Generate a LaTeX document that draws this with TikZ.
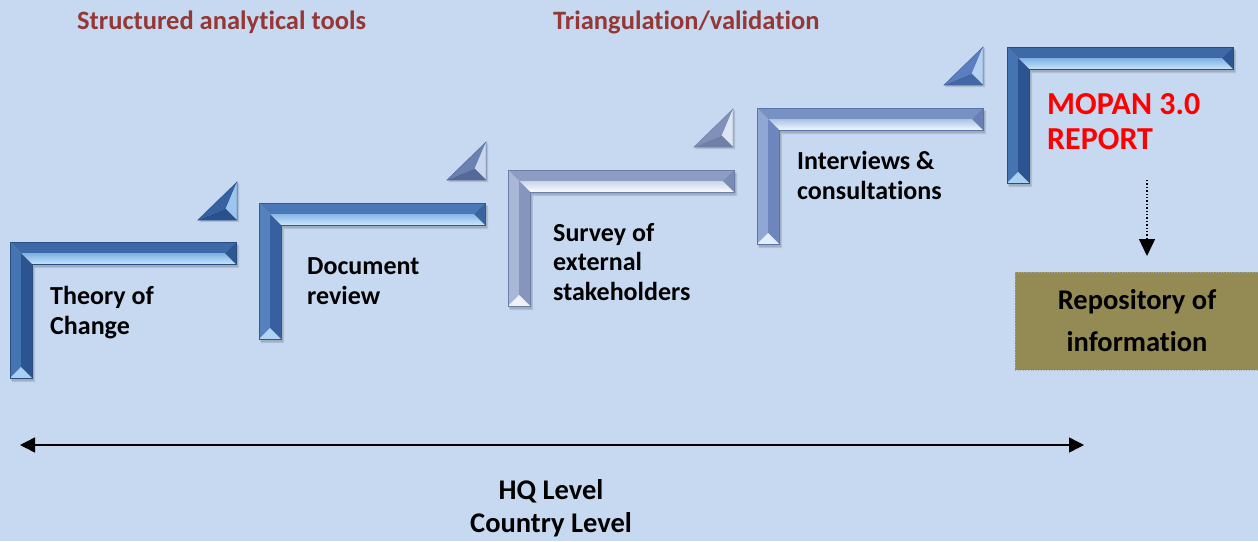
\documentclass[tikz,border=0pt]{standalone}
\usepackage{fontspec}
\setmainfont{Carlito}[Ligatures=NoCommon]
\usetikzlibrary{arrows.meta}

% keeps "t" and "i" as separate glyphs
\newcommand\ti{t\kern0pt i}

\definecolor{bg}{HTML}{C6D9F0}
\definecolor{headred}{HTML}{953735}
\definecolor{repofill}{HTML}{948A54}

% bevelled step colour sets: top facet, strip top/bottom, end facet,
% vertical left/right facets, bottom facet, outline
\definecolor{A-top}{HTML}{3D69A7}\definecolor{A-st}{HTML}{7FB0E3}\definecolor{A-sb}{HTML}{C4E4FB}
\definecolor{A-end}{HTML}{2D5792}\definecolor{A-vl}{HTML}{4574B2}\definecolor{A-vr}{HTML}{2C5490}
\definecolor{A-bot}{HTML}{A8D0F2}\definecolor{A-line}{HTML}{2B4E82}

\definecolor{D-top}{HTML}{4A77B6}\definecolor{D-st}{HTML}{86B6E6}\definecolor{D-sb}{HTML}{CBE7FB}
\definecolor{D-end}{HTML}{3A64A0}\definecolor{D-vl}{HTML}{5382BF}\definecolor{D-vr}{HTML}{3860A0}
\definecolor{D-bot}{HTML}{B0D5F4}\definecolor{D-line}{HTML}{35598E}

\definecolor{B-top}{HTML}{8D9DC2}\definecolor{B-st}{HTML}{C9D3E8}\definecolor{B-sb}{HTML}{FBFCFF}
\definecolor{B-end}{HTML}{7B8CB3}\definecolor{B-vl}{HTML}{A9B7D6}\definecolor{B-vr}{HTML}{8595BB}
\definecolor{B-bot}{HTML}{EEF3FB}\definecolor{B-line}{HTML}{6C7DA6}

\definecolor{C-top}{HTML}{7791C3}\definecolor{C-st}{HTML}{A9C3E6}\definecolor{C-sb}{HTML}{F2F8FF}
\definecolor{C-end}{HTML}{6880B5}\definecolor{C-vl}{HTML}{8EA7D3}\definecolor{C-vr}{HTML}{6D87BC}
\definecolor{C-bot}{HTML}{E2EEFB}\definecolor{C-line}{HTML}{5A74A8}

% flag triangles: hypotenuse, lit and shaded facets
\definecolor{T1-h}{HTML}{3563A2}\definecolor{T1-l}{HTML}{9CC6EE}\definecolor{T1-d}{HTML}{27508C}
\definecolor{T2-h}{HTML}{6A82AF}\definecolor{T2-l}{HTML}{C9D7EE}\definecolor{T2-d}{HTML}{53699A}
\definecolor{T3-h}{HTML}{8090B8}\definecolor{T3-l}{HTML}{DDE5F3}\definecolor{T3-d}{HTML}{6E7FA8}
\definecolor{T4-h}{HTML}{5A7EBF}\definecolor{T4-l}{HTML}{B5D2F2}\definecolor{T4-d}{HTML}{4466A2}

% an inverted-L bevelled step, top-left corner at (#1,#2), colour set #3
\newcommand\stairstep[3]{%
  \begin{scope}[shift={(#1,#2)}]
    \fill[black,opacity=0.10] (1,2) -- (228,2) -- (228,25) -- (24,25) -- (24,139) -- (1,139) -- cycle;
    \fill[black,opacity=0.10] (2,3) -- (229,3) -- (229,26) -- (25,26) -- (25,140) -- (2,140) -- cycle;
    \fill[#3-top] (0,0) -- (226,0) -- (215,11) -- (11,11) -- cycle;
    \shade[top color=#3-st, bottom color=#3-sb] (11,11) -- (215,11) -- (226,22) -- (22,22) -- cycle;
    \fill[#3-end] (226,0) -- (226,22) -- (215,11) -- cycle;
    \fill[#3-vl] (0,0) -- (11,11) -- (11,125) -- (0,136) -- cycle;
    \fill[#3-vr] (11,11) -- (22,22) -- (22,136) -- (11,125) -- cycle;
    \fill[#3-bot] (0,136) -- (22,136) -- (11,125) -- cycle;
    \draw[#3-line, line width=0.6] (0,0) -- (226,0) -- (226,22) -- (22,22) -- (22,136) -- (0,136) -- cycle;
  \end{scope}}

% bevelled right-angled flag, bottom-left corner at (#1,#2), colour set #3
\newcommand\stairflag[3]{%
  \begin{scope}[shift={(#1,#2)}]
    \fill[black,opacity=0.12] (1,2) -- (41,2) -- (41,-37) -- cycle;
    \fill[#3-h] (0,0) -- (39,-38) -- (27.7,-11.3) -- cycle;
    \fill[#3-l] (39,-38) -- (39,0) -- (27.7,-11.3) -- cycle;
    \fill[#3-d] (39,0) -- (0,0) -- (27.7,-11.3) -- cycle;
    \draw[#3-d, line width=0.5] (0,0) -- (39,0) -- (39,-38) -- cycle;
  \end{scope}}

\tikzset{
  lbl/.style={font=\fontsize{26}{29.5}\selectfont\bfseries, align=left, inner sep=0pt, text=black},
  hdr/.style={font=\fontsize{26.5}{30}\selectfont\bfseries, inner sep=0pt, text=headred},
  mopan/.style={font=\fontsize{32}{35}\selectfont\bfseries, align=left, inner sep=0pt, text=red},
  repo/.style={fill=repofill, draw=gray!70, dotted, line width=0.6,
    minimum width=244, minimum height=98, inner sep=0pt,
    font=\fontsize{28.5}{42}\selectfont\bfseries, align=center, text=black},
  levels/.style={font=\fontsize{28.5}{33}\selectfont\bfseries, align=center, inner sep=0pt},
  span/.style={line width=1.4, {Triangle[length=15,width=15]}-{Triangle[length=15,width=15]}},
  feed/.style={dotted, line width=1.4, -{Triangle[length=17,width=16]}}
}

\begin{document}
\begin{tikzpicture}[x=1pt, y=-1pt]
  \fill[bg] (0,0) rectangle (1258,541);
  \useasboundingbox (0,0) rectangle (1258,541);

  % stairs
  \stairstep{10}{242}{A}
  \stairstep{259}{203}{D}
  \stairstep{508}{170}{B}
  \stairstep{757}{108}{C}
  \stairstep{1007}{47}{A}

  \stairflag{198}{220}{T1}
  \stairflag{447}{180}{T2}
  \stairflag{694}{147}{T3}
  \stairflag{944}{85}{T4}

  % headings
  \node[hdr, anchor=base west] (tools) at (77,29.5) {Structured analy\ti cal tools};
  \node[hdr, anchor=base west] (triang) at (553,29.5) {Triangula\ti on/valida\ti on};

  % step labels (anchored on the baseline of their last line)
  \node[lbl, anchor=base west] (toc) at (50,334) {Theory of\\Change};
  \node[lbl, anchor=base west] (docrev) at (307,304) {Document\\review};
  \node[lbl, anchor=base west] (survey) at (553,300) {Survey of\\external\\stakeholders};
  \node[lbl, anchor=base west] (interv) at (797,199) {Interviews \&\\consulta\ti ons};
  \node[mopan, anchor=base west] (report) at (1047,149.5) {MOPAN 3.0\\REPORT};

  % repository
  \node[repo] (repo) at (1137,321) {Repository of\\informa\ti on};
  \coordinate (feedtop) at (1147,180);
  \coordinate (feedend) at (1147,256);
  \draw[feed] (feedtop) -- (feedend);

  % level span
  \coordinate (spanl) at (20,445);
  \coordinate (spanr) at (1084,445);
  \draw[span] (spanl) -- (spanr);
  \node[levels, anchor=base] (levels) at (551,532.5) {HQ Level\\Country Level};
\end{tikzpicture}
\end{document}
